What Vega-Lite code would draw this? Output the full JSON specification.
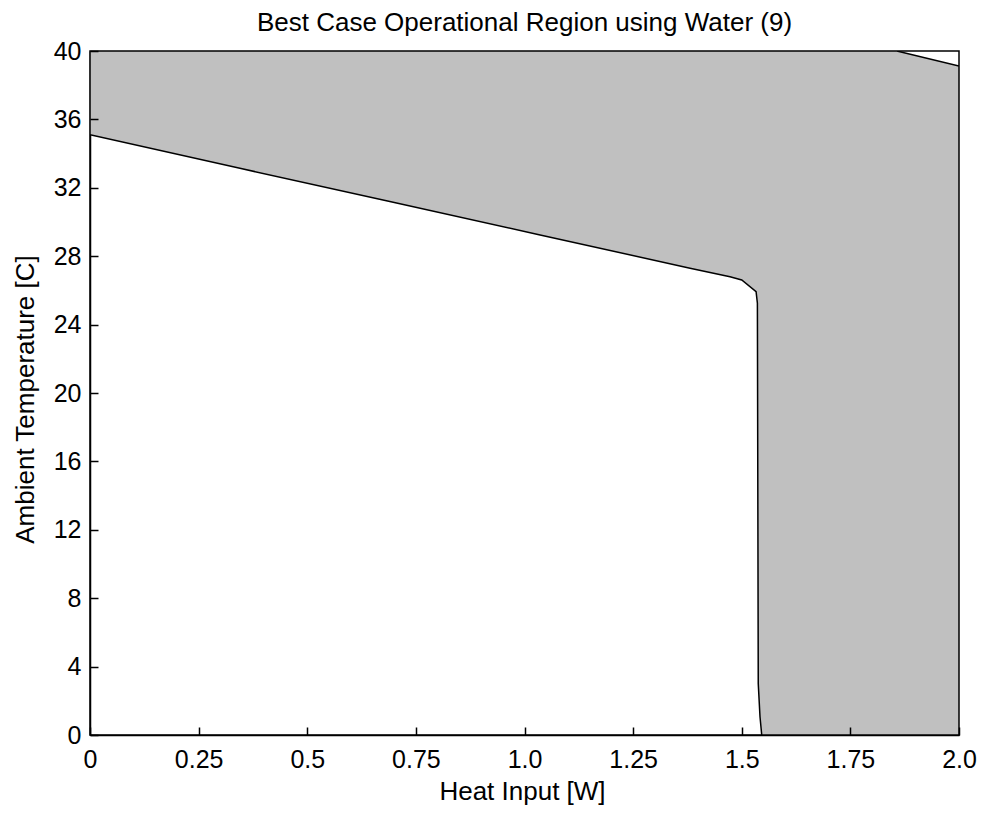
{
  "$schema": "https://vega.github.io/schema/vega-lite/v6.json",
  "autosize": "none",
  "width": 869,
  "height": 684,
  "padding": {"left": 90, "top": 51, "right": 22, "bottom": 78},
  "background": "white",
  "title": {
    "text": "Best Case Operational Region using Water (9)",
    "font": "Liberation Sans",
    "fontSize": 26,
    "fontWeight": "normal",
    "color": "black",
    "anchor": "middle",
    "frame": "group",
    "baseline": "bottom",
    "offset": 3,
    "dy": 26
  },
  "config": {
    "view": {"stroke": "black", "strokeWidth": 1.5},
    "axis": {
      "grid": false,
      "domainColor": "black",
      "domainWidth": 1.5,
      "tickColor": "black",
      "tickWidth": 1.5,
      "labelFont": "Liberation Sans",
      "labelFontSize": 25,
      "labelColor": "black",
      "labelFlush": false,
      "labelOverlap": false,
      "titleFont": "Liberation Sans",
      "titleFontSize": 26,
      "titleFontWeight": "normal",
      "titleColor": "black"
    }
  },
  "data": {
    "values": [
      {"t": 0, "lo": 1.546, "hi": 2.0},
      {"t": 1.07, "lo": 1.542, "hi": 2.0},
      {"t": 3.0, "lo": 1.538, "hi": 2.0},
      {"t": 25.25, "lo": 1.536, "hi": 2.0},
      {"t": 25.93, "lo": 1.533, "hi": 2.0},
      {"t": 26.61, "lo": 1.5, "hi": 2.0},
      {"t": 26.8, "lo": 1.473, "hi": 2.0},
      {"t": 27.3, "lo": 1.381, "hi": 2.0},
      {"t": 29.24, "lo": 1.036, "hi": 2.0},
      {"t": 31.2, "lo": 0.69, "hi": 2.0},
      {"t": 33.14, "lo": 0.345, "hi": 2.0},
      {"t": 35.1, "lo": 0, "hi": 2.0},
      {"t": 39.12, "lo": 0, "hi": 2.0},
      {"t": 40, "lo": 0, "hi": 1.857}
    ]
  },
  "layer": [
    {
      "mark": {"type": "area", "orient": "horizontal", "fill": "#c0c0c0", "fillOpacity": 1, "stroke": "black", "strokeWidth": 1.5, "clip": true},
      "encoding": {
        "y": {
          "field": "t",
          "type": "quantitative",
          "scale": {"domain": [0, 40], "nice": false, "zero": false},
          "axis": {
            "orient": "left",
            "values": [0, 4, 8, 12, 16, 20, 24, 28, 32, 36, 40],
            "ticks": false,
            "tickSize": 0,
            "title": "Ambient Temperature [C]",
            "labelPadding": 9,
            "titleAngle": -90,
            "titleAlign": "center",
            "titleBaseline": "alphabetic",
            "titleX": -57,
            "titleY": 348
          }
        },
        "x": {
          "field": "lo",
          "type": "quantitative",
          "scale": {"domain": [0, 2], "nice": false, "zero": false},
          "axis": {
            "orient": "bottom",
            "values": [0, 0.25, 0.5, 0.75, 1, 1.25, 1.5, 1.75, 2],
            "labelExpr": "datum.value == 0 ? '0' : (datum.value % 0.5 == 0 ? format(datum.value, '.1f') : format(datum.value, '.2f'))",
            "ticks": false,
            "tickSize": 0,
            "title": "Heat Input [W]",
            "labelPadding": 12,
            "titleAlign": "center",
            "titleBaseline": "alphabetic",
            "titleX": 432,
            "titleY": 64
          }
        },
        "x2": {"field": "hi"}
      }
    },
    {
      "mark": {"type": "point", "opacity": 0, "size": 0},
      "encoding": {
        "y": {
          "field": "t",
          "type": "quantitative",
          "axis": {
            "orient": "left",
            "offset": -8,
            "values": [0, 4, 8, 12, 16, 20, 24, 28, 32, 36, 40],
            "tickSize": 8,
            "labels": false,
            "domain": false,
            "title": null,
            "zindex": 1
          }
        },
        "x": {
          "field": "lo",
          "type": "quantitative",
          "axis": {
            "orient": "bottom",
            "offset": -8,
            "values": [0, 0.25, 0.5, 0.75, 1, 1.25, 1.5, 1.75, 2],
            "tickSize": 8,
            "labels": false,
            "domain": false,
            "title": null,
            "zindex": 1
          }
        }
      }
    }
  ],
  "resolve": {"axis": {"x": "independent", "y": "independent"}}
}
